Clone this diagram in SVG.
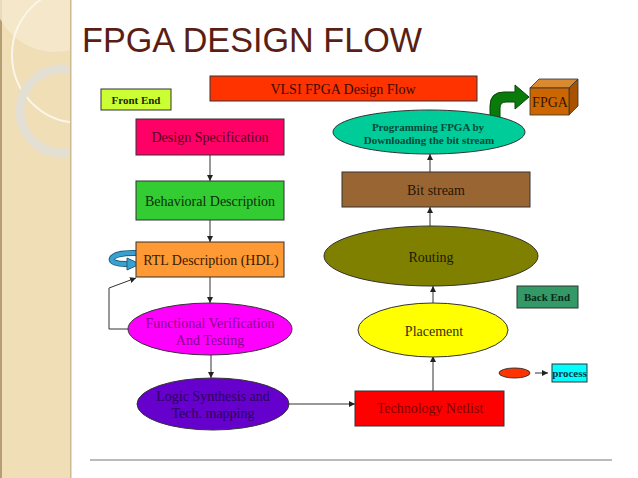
<svg xmlns="http://www.w3.org/2000/svg" width="638" height="478" viewBox="0 0 638 478">
<defs>
<style>
.n{stroke:#333;stroke-width:1}
.t{font-family:"Liberation Serif","Times New Roman",serif;font-size:14px;text-anchor:middle;dominant-baseline:central}
.b{font-weight:bold;font-size:11px}
.c{stroke:#333;stroke-width:1;fill:none;marker-end:url(#ah)}
</style>
<marker id="ah" viewBox="0 0 6 6" refX="6" refY="3" markerWidth="6" markerHeight="6" orient="auto" markerUnits="userSpaceOnUse">
<path d="M0,0 L6,3 L0,6 Z" fill="#222"/>
</marker>
<clipPath id="lp"><rect x="0" y="0" width="70" height="478"/></clipPath>
</defs>
<rect width="638" height="478" fill="#fff"/>
<g id="panel">
<rect x="0" y="0" width="71" height="478" fill="#F0DEB6"/>
<rect x="0" y="0" width="2" height="478" fill="#B59E74"/>
<rect x="70" y="0" width="1.5" height="478" fill="#CDB992"/>
<g clip-path="url(#lp)">
<circle cx="55" cy="-10" r="62" fill="#F5E9CF" opacity="0.8"/>
<circle cx="80" cy="55" r="68" fill="none" stroke="#FBF6EA" stroke-width="2"/>
<circle cx="62" cy="111" r="42" fill="none" stroke="#E4DFD3" stroke-width="9"/>
</g>
</g>
<text x="82" y="52" font-family="Liberation Sans,Arial,sans-serif" font-size="35" fill="#5A1E14" textLength="340" lengthAdjust="spacingAndGlyphs">FPGA DESIGN FLOW</text>
<line x1="90" y1="460" x2="612" y2="460" stroke="#777" stroke-width="1"/>
<g id="connectors">
<line class="c" x1="210" y1="155" x2="210" y2="181"/>
<line class="c" x1="210" y1="220" x2="210" y2="242"/>
<line class="c" x1="210" y1="277" x2="210" y2="303"/>
<line class="c" x1="211" y1="355" x2="211" y2="378"/>
<line class="c" x1="289" y1="404" x2="355" y2="404"/>
<line class="c" x1="433" y1="391" x2="433" y2="356"/>
<line class="c" x1="433" y1="303" x2="433" y2="286"/>
<line class="c" x1="430" y1="226" x2="430" y2="207"/>
<line class="c" x1="430" y1="172" x2="430" y2="154"/>
<path class="c" d="M128,329 L109,329 L109,288 L136,278"/>
<line class="c" x1="535" y1="373" x2="548" y2="373"/>
<path d="M490,117 L490,106 Q490,92 504,92 L515,92 L515,85 L529,97 L515,109 L515,102 L506,102 Q500,102 500,108 L500,117 Z" fill="#0A7A0A" stroke="#054505" stroke-width="1"/>
<path d="M137,253 C106,252 104,265 128,264" fill="none" stroke="#1F5F7F" stroke-width="6"/>
<path d="M137,253 C106,252 104,265 128,264" fill="none" stroke="#3AA0D0" stroke-width="4"/>
<path d="M127,258 L140,264 L127,270 Z" fill="#3AA0D0" stroke="#1F5F7F" stroke-width="1"/>
</g>
<g id="vlsi"><rect class="n" x="210" y="76" width="267" height="25" fill="#FF3300"/><text class="t" x="343" y="89" font-size="15" fill="#3A0A00">VLSI FPGA Design Flow</text></g>
<g id="frontend"><rect class="n" x="101" y="89" width="70" height="21" fill="#CCFF33"/><text class="t b" x="136" y="100" fill="#1A2A00">Front End</text></g>
<g id="designspec"><rect class="n" x="136" y="119" width="148" height="36" fill="#FF0066"/><text class="t" x="210" y="137" fill="#550022">Design Specification</text></g>
<g id="behavioral"><rect class="n" x="136" y="181" width="148" height="39" fill="#33CC33"/><text class="t" x="210" y="201" fill="#0A300A">Behavioral Description</text></g>
<g id="rtl"><rect class="n" x="136" y="242" width="148" height="35" fill="#FF9933"/><text class="t" x="211" y="260" fill="#3A1A00">RTL Description (HDL)</text></g>
<g id="funcver"><ellipse class="n" cx="210" cy="329" rx="82" ry="26" fill="#FF00FF"/><text class="t" x="210" y="323" fill="#8A008A">Functional Verification</text><text class="t" x="210" y="340" fill="#8A008A">And Testing</text></g>
<g id="logicsynth"><ellipse class="n" cx="213" cy="404" rx="76" ry="26" fill="#6600CC"/><text class="t" x="213" y="396" fill="#2A0060">Logic Synthesis and</text><text class="t" x="213" y="413" fill="#2A0060">Tech. mapping</text></g>
<g id="technetlist"><rect class="n" x="355" y="391" width="149" height="35" fill="#FF0000"/><text class="t" x="430" y="408" fill="#800000">Technology Netlist</text></g>
<g id="placement"><ellipse class="n" cx="433" cy="330" rx="75" ry="27" fill="#FFFF00"/><text class="t" x="434" y="331" fill="#333300">Placement</text></g>
<g id="routing"><ellipse class="n" cx="431" cy="256" rx="107" ry="30" fill="#808000"/><text class="t" x="431" y="257" fill="#1A1A00">Routing</text></g>
<g id="bitstream"><rect class="n" x="342" y="172" width="188" height="35" fill="#996633"/><text class="t" x="436" y="190" fill="#2A1400">Bit stream</text></g>
<g id="programming"><ellipse class="n" cx="429" cy="132" rx="96" ry="22" fill="#00CC99"/><text class="t b" x="428" y="127" fill="#004A3A">Programming FPGA by</text><text class="t b" x="429" y="140" fill="#004A3A">Downloading the bit stream</text></g>
<g id="fpga"><path d="M530,88 L539,79 L578,79 L569,88 Z" fill="#D98A30" stroke="#333" stroke-width="0.8"/><path d="M569,88 L578,79 L578,106 L569,115 Z" fill="#A85200" stroke="#333" stroke-width="0.8"/><rect x="530" y="88" width="39" height="27" fill="#CC6600" stroke="#333" stroke-width="0.8"/><text class="t" x="550" y="102" font-size="13" fill="#3A1400">FPGA</text></g>
<g id="backend"><rect class="n" x="517" y="286" width="61" height="22" fill="#339966"/><text class="t b" x="547" y="297" fill="#0A2A1A">Back End</text></g>
<g id="legend-process-shape"><ellipse class="n" cx="514.5" cy="373" rx="15.5" ry="5" fill="#FF3300" stroke="#993300"/></g>
<g id="legend-process"><rect class="n" x="552" y="364" width="35" height="18" fill="#00FFFF"/><text class="t b" x="569.5" y="373" font-size="10" fill="#003A4A">process</text></g>
</svg>
